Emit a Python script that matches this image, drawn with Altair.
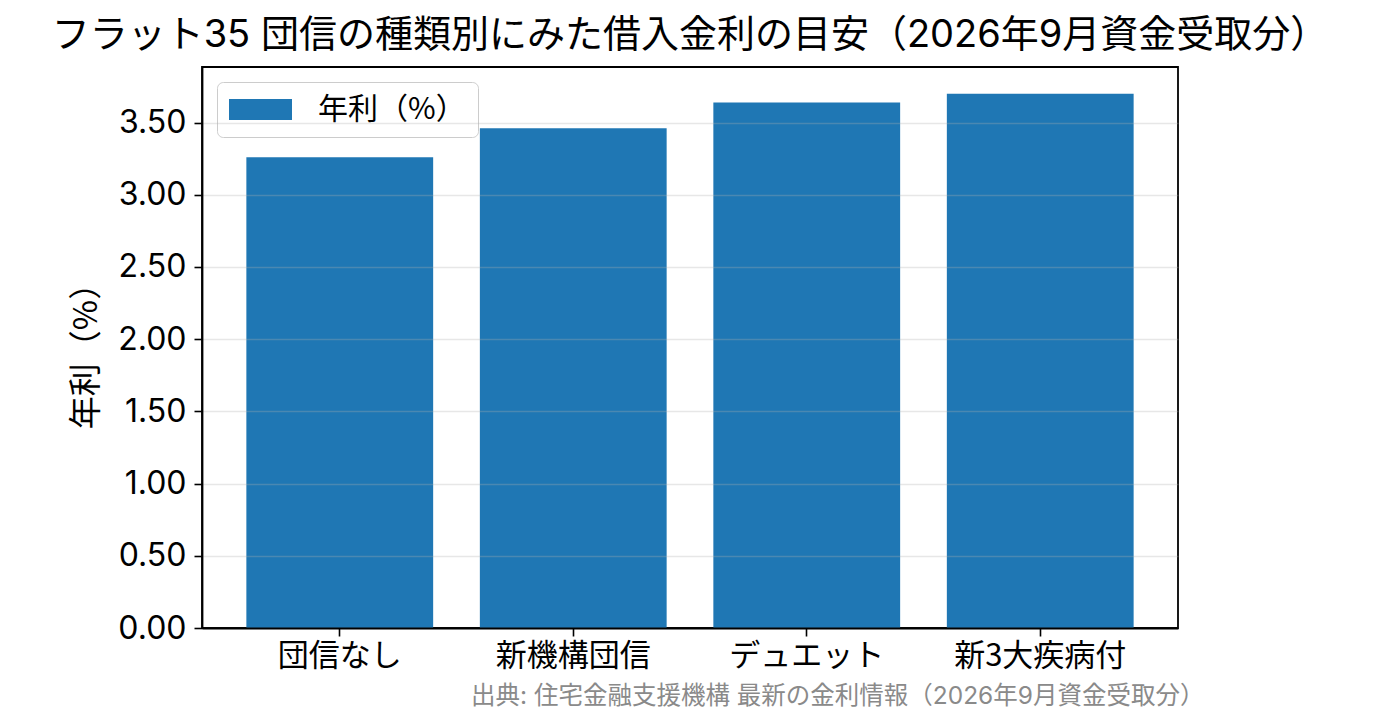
import altair as alt
import pandas as pd

categories = ["団信なし", "新機構団信", "デュエット", "新3大疾病付"]
rates = [3.26, 3.46, 3.64, 3.70]
series_name = "年利（%）"
y_ticks = [0.0, 0.5, 1.0, 1.5, 2.0, 2.5, 3.0, 3.5]
title_text = "フラット35 団信の種類別にみた借入金利の目安（2026年9月資金受取分）"
source_text = "出典: 住宅金融支援機構 最新の金利情報（2026年9月資金受取分）"

df = pd.DataFrame({"category": categories, "rate": rates, "series": [series_name] * len(categories)})

W, H = 976, 561
CJK = "Noto Sans CJK JP"
NUM = "Inter, 'Noto Sans CJK JP'"

bars = alt.Chart(df).mark_bar(color="#1f77b4").encode(
    x=alt.X(
        "category:N",
        sort=categories,
        scale=alt.Scale(paddingInner=0.2, paddingOuter=0.19),
        axis=alt.Axis(
            title=source_text,
            titleFont=NUM,
            titleFontSize=24.5,
            titleFontWeight="normal",
            titleColor="#8a8a8a",
            titleAlign="right",
            titleAnchor="end",
            titleBaseline="alphabetic",
            titleX=W + 26,
            titleY=75,
            labelFont=CJK,
            labelFontSize=31,
            labelColor="black",
            labelAngle=0,
            labelPadding=5,
            tickColor="black",
            tickSize=8,
            tickWidth=1.6,
            domainColor="black",
            domainWidth=1.8,
            zindex=1,
        ),
    ),
    y=alt.Y(
        "rate:Q",
        scale=alt.Scale(domain=[0, 3.885], nice=False, zero=True),
        axis=alt.Axis(
            title="年利（%）",
            titleFont=CJK,
            titleFontSize=33,
            titleFontWeight="normal",
            titleColor="black",
            titlePadding=14,
            values=y_ticks,
            format=".2f",
            labelFont=NUM,
            labelFontSize=32,
            labelColor="black",
            labelPadding=8,
            tickColor="black",
            tickSize=8,
            tickWidth=1.6,
            domainColor="black",
            domainWidth=1.8,
            grid=True,
            gridColor="#b0b0b0",
            gridOpacity=0.3,
            gridWidth=1.6,
            zindex=1,
        ),
    ),
    color=alt.Color(
        "series:N",
        scale=alt.Scale(range=["#1f77b4"]),
        legend=alt.Legend(
            title=None,
            orient="top-left",
            offset=15,
            symbolType="M-1,-0.333L1,-0.333L1,0.333L-1,0.333Z",
            symbolSize=3969,
            symbolStrokeWidth=0,
            clipHeight=31,
            labelFont=CJK,
            labelFontSize=30,
            labelColor="black",
            labelOffset=26,
            padding=12,
            fillColor="rgba(255,255,255,0.8)",
            strokeColor="#cccccc",
            cornerRadius=6,
        ),
    ),
)

chart = bars.properties(
    width=W,
    height=H,
    title=alt.Title(
        title_text,
        font=NUM,
        fontSize=38,
        fontWeight="normal",
        color="black",
        anchor="middle",
        frame="group",
        offset=12,
    ),
    autosize=alt.AutoSizeParams(type="none"),
    padding={"left": 194, "top": 59, "right": 193, "bottom": 89},
).configure(
    background="white",
    view=alt.ViewConfig(stroke="black", strokeWidth=1.8),
)

chart.save("out.html", embed_options={"renderer": "svg", "actions": False})
